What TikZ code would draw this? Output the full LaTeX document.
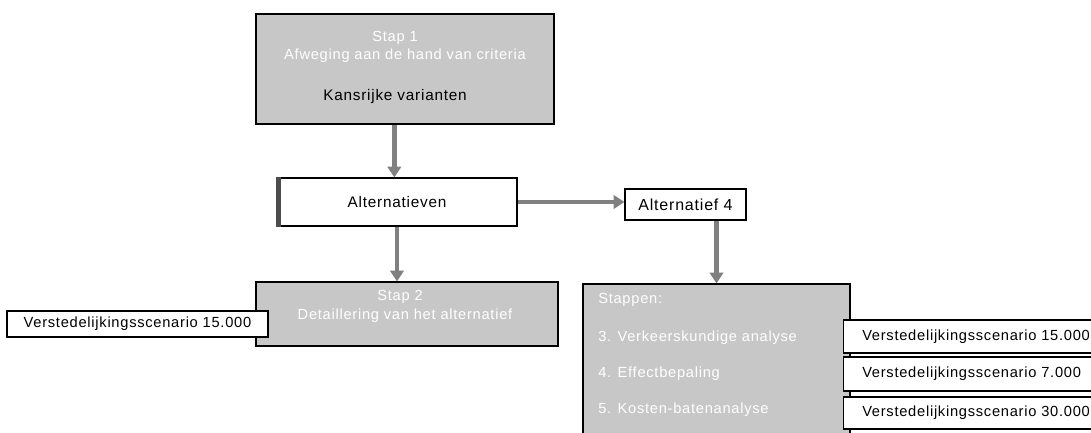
\documentclass[tikz,border=0pt]{standalone}
\usepackage{fontspec}
\setmainfont{Liberation Sans}[LetterSpace=5]
\usetikzlibrary{arrows.meta}
\definecolor{boxgrey}{gray}{0.78}
\definecolor{arrowgrey}{gray}{0.5}
\tikzset{
  greybox/.style={draw=black, line width=0.9pt, fill=boxgrey, inner sep=0pt},
  whitebox/.style={draw=black, line width=0.9pt, fill=white, inner sep=0pt, font=\fontsize{11}{13}\selectfont},
  wtext/.style={text=white, font=\fontsize{11}{13}\selectfont, inner sep=0pt},
  btext/.style={text=black, font=\fontsize{11.5}{13}\selectfont, inner sep=0pt},
  flow/.style={draw=arrowgrey, line width=3.6pt, -{Triangle[length=8pt,width=10pt]}},
}
\begin{document}
\begin{tikzpicture}[x=0.75pt,y=-0.75pt]
\useasboundingbox (0,0) rectangle (1091,432);
\clip (0,0) rectangle (1091,432);
% top box
\node[greybox, minimum width=223.5pt, minimum height=82.5pt] (stap1) at (405,69) {};
\node[wtext] (s1a) at (395,38) {Stap 1};
\node[wtext] (s1b) at (405,56) {Afweging aan de hand van criteria};
\node[btext] (kans) at (395,97) {Kansrijke varianten};
% alternatieven
\node[whitebox, minimum width=180pt, minimum height=36pt, font=\fontsize{11.5}{13}\selectfont] (alt) at (397,202) {Alternatieven};
\fill[black!70] (alt.north west) rectangle ([xshift=3.5pt]alt.south west);
% alternatief 4
\node[whitebox, minimum width=90.75pt, minimum height=23.25pt, font=\fontsize{12}{14}\selectfont] (alt4) at (685.5,204.5) {Alternatief 4};
% stap 2 box
\node[greybox, minimum width=226.5pt, minimum height=48pt] (stap2) at (407,314) {};
\node[wtext] (s2a) at (400,297) {Stap 2};
\node[wtext] (s2b) at (405,316) {Detaillering van het alternatief};
% left scenario box
\node[whitebox, minimum width=195.75pt, minimum height=19.5pt] (vl) at (137.5,324) {Verstedelijkingsscenario 15.000};
% right grey box
\node[greybox, minimum width=200.25pt, minimum height=120pt] (stappen) at (716.5,364) {};
\node[wtext, anchor=west] (st0) at (598,300) {Stappen:};
\node[wtext, anchor=west] (st3) at (598,338) {3. Verkeerskundige analyse};
\node[wtext, anchor=west] (st4) at (598,374) {4. Effectbepaling};
\node[wtext, anchor=west] (st5) at (598,410) {5. Kosten-batenanalyse};
% right scenario boxes
\node[whitebox, minimum width=195pt, minimum height=24.75pt, anchor=west, text width=185pt, align=left] (v1) at (843,336.5) {\hspace*{9pt}Verstedelijkingsscenario 15.000};
\node[whitebox, minimum width=195pt, minimum height=25.5pt, anchor=west, text width=185pt, align=left] (v2) at (843,374) {\hspace*{9pt}Verstedelijkingsscenario 7.000};
\node[whitebox, minimum width=195pt, minimum height=24pt, anchor=west, text width=185pt, align=left] (v3) at (843,413) {\hspace*{9pt}Verstedelijkingsscenario 30.000};
% connectors
\draw[flow] ([xshift=-8pt]stap1.south) -- ([xshift=-8pt]stap1.south |- alt.north);
\draw[flow] (alt.east) -- (alt.east -| alt4.west);
\draw[flow] (alt.south) -- (alt.south |- stap2.north);
\draw[flow] (stappen.north |- alt4.south) -- (stappen.north);
\end{tikzpicture}
\end{document}
